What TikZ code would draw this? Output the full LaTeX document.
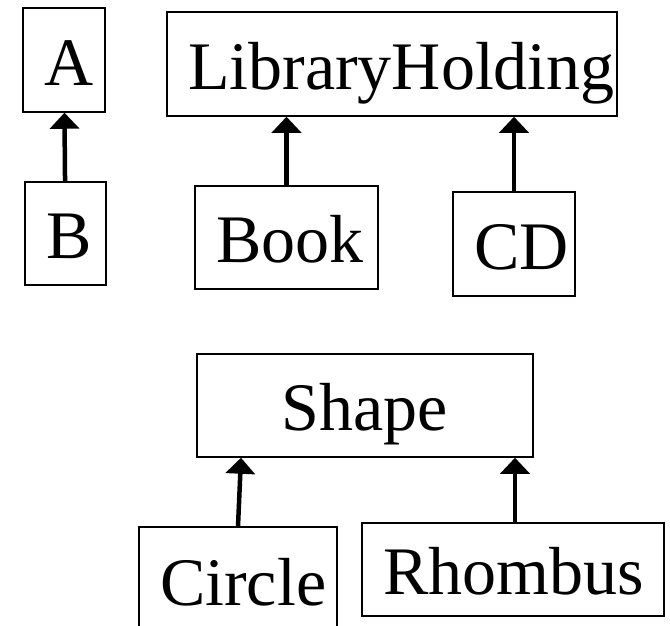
\documentclass[tikz,border=0pt]{standalone}
\usepackage{fontspec}
\setmainfont{Liberation Serif}
\usetikzlibrary{arrows.meta}
\newcommand\clspad{\hyphenpenalty=10000\relax\hspace*{21pt}}
\begin{document}
\begin{tikzpicture}[x=1pt,y=-1pt,
    cls/.style={draw,line width=1.5pt,inner sep=0pt,text height=50pt,text depth=0pt,
      font=\fontsize{68}{80}\selectfont},
    lcls/.style={cls,align=left,execute at begin node=\clspad},
    isa/.style={line width=4.5pt,-{Triangle[width=29pt,length=16pt]}}]
  \useasboundingbox (0,0) rectangle (670,626);
  % A and B
  \node[lcls,text width=82pt,minimum height=104pt] (A) at (64,60) {A};
  \node[lcls,text width=81pt,minimum height=103pt] (B) at (65.5,233.5) {B};
  \draw[isa] (B) -- (A);
  % library holdings
  \node[lcls,text width=450pt,minimum height=104pt] (Holding) at (392,64) {LibraryHolding};
  \node[lcls,text width=183pt,minimum height=103pt] (Book) at (286.5,237.5) {Book};
  \node[lcls,text width=122pt,minimum height=104pt] (CD) at (514,244) {CD};
  \draw[isa] (Book.north) -- (Book.north |- Holding.south);
  \draw[isa] (CD.north) -- (CD.north |- Holding.south);
  % shapes
  \node[cls,minimum width=336pt,minimum height=103pt] (Shape) at (365,405.5) {Shape};
  \node[lcls,text width=198pt,minimum height=106pt] (Circle) at (238,580) {Circle};
  \node[lcls,text width=302pt,minimum height=93pt] (Rhombus) at (513,569.5) {Rhombus};
  \draw[isa] (Circle.north) -- ([xshift=3pt]Circle.north |- Shape.south);
  \draw[isa] ([xshift=2pt]Rhombus.north) -- ([xshift=2pt]Rhombus.north |- Shape.south);
\end{tikzpicture}
\end{document}
